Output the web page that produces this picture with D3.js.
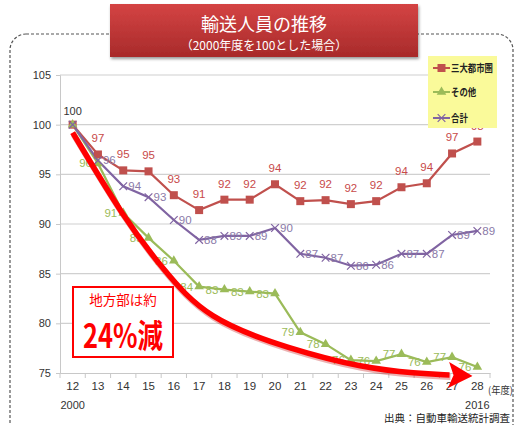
<!DOCTYPE html>
<html><head><meta charset="utf-8">
<script src="https://cdn.jsdelivr.net/npm/d3@7"></script>
<style>body{margin:0;background:#fff}svg{display:block}</style>
</head><body>
<svg id="c" width="515" height="425"></svg>
<script>
const categories = ["12","13","14","15","16","17","18","19","20","21","22","23","24","25","26","27","28"];
const metro = [100,97.0,95.4,95.3,92.9,91.4,92.45,92.45,94.0,92.3,92.4,92.0,92.3,93.7,94.1,97.1,98.3];
const rural = [100,96.1,91.1,88.6,86.3,83.7,83.4,83.2,83.0,79.1,77.9,76.3,76.2,76.9,76.1,76.6,75.6];
const total = [100,96.4,93.8,92.7,90.4,88.4,88.8,88.8,89.6,87.0,86.6,85.8,85.9,87.0,87.0,88.9,89.3];
const yTicks = [75,80,85,90,95,100,105];
const seriesNames = ["三大都市圏","その他","合計"];
// annotation arrow path in data space (year index, value)
const arrowYears = [12, 14.05, 15.55, 17.3, 20.6, 23.5, 25.6, 26.9];
const arrowVals  = [99.2, 90.5, 85.5, 80.4, 77.4, 75.5, 74.95, 74.8];

const svg = d3.select("#c");
const CJK = "'Noto Sans CJK JP','Noto Sans',sans-serif";
const NUM = "'Liberation Sans Narrow','Liberation Sans',Arial,sans-serif";

const x = d3.scaleBand().domain(categories).range([60,490]);
const xc = c => x(c) + x.bandwidth()/2;
const xn = d3.scaleLinear().domain([12,28]).range([xc("12"), xc("28")]);
const y = d3.scaleLinear().domain([75,105]).range([373,75]);

// dashed frame
svg.append("rect").attr("x",10).attr("y",34).attr("width",503).attr("height",430).attr("rx",16)
  .attr("fill","none").attr("stroke","#555").attr("stroke-width",1.2).attr("stroke-dasharray","3,2");

// gridlines
svg.append("g").selectAll("line").data(yTicks.filter(t=>t>75)).join("line")
  .attr("x1",60).attr("x2",490).attr("y1",d=>y(d)).attr("y2",d=>y(d))
  .attr("stroke","#d0d0d0").attr("stroke-width",1.2);

// y axis
const ya = svg.append("g").attr("transform","translate(60,0)")
  .call(d3.axisLeft(y).tickValues(yTicks).tickSize(4).tickPadding(5));
ya.select(".domain").attr("stroke","#c8c8c8");
ya.selectAll(".tick line").attr("stroke","#c8c8c8");
ya.selectAll("text").attr("font-family",NUM).attr("font-size",11).attr("fill","#333");

// x axis
const xa = svg.append("g").attr("transform",`translate(0,${y(75)})`)
  .call(d3.axisBottom(x).tickSize(0).tickPadding(9));
xa.select(".domain").attr("stroke","#c8c8c8");
xa.selectAll("text").attr("font-family",NUM).attr("font-size",11.5).attr("fill","#333");
svg.append("g").selectAll("line").data(categories.concat(["end"])).join("line")
  .attr("x1",(d,i)=> i<categories.length ? x(d) : 490).attr("x2",(d,i)=> i<categories.length ? x(d) : 490)
  .attr("y1",y(75)).attr("y2",y(75)+5).attr("stroke","#c8c8c8");

svg.append("text").attr("x",xc("12")).attr("y",409).attr("text-anchor","middle")
  .attr("font-family",NUM).attr("font-size",11).attr("fill","#333").text("2000");
svg.append("text").attr("x",xc("28")).attr("y",409).attr("text-anchor","middle")
  .attr("font-family",NUM).attr("font-size",11).attr("fill","#333").text("2016");
svg.append("text").attr("x",488).attr("y",394)
  .attr("font-family",CJK).attr("font-size",10).attr("fill","#333")
  .attr("textLength",25).attr("lengthAdjust","spacingAndGlyphs").text("(年度)");
svg.append("text").attr("x",384).attr("y",422)
  .attr("font-family",CJK).attr("font-size",10.5).attr("fill","#222").text("出典：自動車輸送統計調査");

const colors = ["#c0504d","#9bbb59","#8064a2"];
const datas = [metro, rural, total];
const line = d3.line().x((d,i)=>xc(categories[i])).y(d=>y(d));

// series lines
datas.forEach((arr,k)=>{
  svg.append("path").datum(arr).attr("d",line).attr("fill","none")
    .attr("stroke",colors[k]).attr("stroke-width",2.2);
});

// markers
svg.append("g").selectAll("rect").data(metro).join("rect")
  .attr("x",(d,i)=>xc(categories[i])-4).attr("y",d=>y(d)-4).attr("width",8).attr("height",8)
  .attr("fill",colors[0]);
const tri = d3.symbol().type(d3.symbolTriangle).size(40);
svg.append("g").selectAll("path").data(rural).join("path")
  .attr("d",tri).attr("transform",(d,i)=>`translate(${xc(categories[i])},${y(d)})`)
  .attr("fill",colors[1]);
svg.append("g").selectAll("path").data(total).join("path")
  .attr("d",d3.symbol().type(d3.symbolX).size(40)).attr("transform",(d,i)=>`translate(${xc(categories[i])},${y(d)})`)
  .attr("fill","none").attr("stroke",colors[2]).attr("stroke-width",1.2);

// first point label
svg.append("text").attr("x",xc("12")).attr("y",y(100)-10).attr("text-anchor","middle")
  .attr("font-family",NUM).attr("font-size",11).attr("fill","#333").text("100");

// data labels
svg.append("g").selectAll("text").data(metro.slice(1)).join("text")
  .attr("x",(d,i)=>xc(categories[i+1])).attr("y",d=>y(d)-12).attr("text-anchor","middle")
  .attr("font-family",NUM).attr("font-size",11.5).attr("fill","#c84a4a").text(d=>Math.round(d));
svg.append("g").selectAll("text").data(rural.slice(1)).join("text")
  .attr("x",(d,i)=>xc(categories[i+1])-6).attr("y",d=>y(d)+4).attr("text-anchor","end")
  .attr("font-family",NUM).attr("font-size",11.5).attr("fill","#9bbb59").text(d=>Math.round(d));
svg.append("g").selectAll("text").data(total.slice(1)).join("text")
  .attr("x",(d,i)=>xc(categories[i+1])+5).attr("y",d=>y(d)+4).attr("text-anchor","start")
  .attr("font-family",NUM).attr("font-size",11.5).attr("fill","#8a7aa8").text(d=>Math.round(d));

// arrow
const defs = svg.append("defs");
defs.append("marker").attr("id","ah").attr("markerUnits","userSpaceOnUse")
  .attr("viewBox","0 0 24 26").attr("refX",1).attr("refY",13)
  .attr("markerWidth",24).attr("markerHeight",26).attr("orient","auto")
  .append("path").attr("d","M0,0 L24,13 L0,26 L5,13 Z").attr("fill","#ff0000");
const aline = d3.line().curve(d3.curveBasis).x((d,i)=>xn(arrowYears[i])).y(d=>y(d));
svg.append("path").datum(arrowVals).attr("d",aline).attr("fill","none")
  .attr("stroke","#c00000").attr("stroke-width",6).attr("opacity",0.3).attr("transform","translate(1,2)");
svg.append("path").datum(arrowVals).attr("d",aline).attr("fill","none")
  .attr("stroke","#ff0000").attr("stroke-width",5.5).attr("marker-end","url(#ah)");

// callout
svg.append("rect").attr("x",73).attr("y",287).attr("width",100).attr("height",70)
  .attr("fill","#fff").attr("stroke","#ff0000").attr("stroke-width",2);
svg.append("text").attr("x",123).attr("y",305).attr("text-anchor","middle")
  .attr("font-family",CJK).attr("font-size",13.5).attr("fill","#ff0000").text("地方部は約");
svg.append("text").attr("x",83).attr("y",348)
  .attr("font-family",CJK).attr("font-size",33).attr("font-weight","bold").attr("fill","#ff0000")
  .attr("textLength",80).attr("lengthAdjust","spacingAndGlyphs").text("24%減");

// legend
const lg = svg.append("g");
lg.append("rect").attr("x",428).attr("y",56).attr("width",69).attr("height",72).attr("fill","#fafa9a");
seriesNames.forEach((n,k)=>{
  const ly = [68,92,118][k];
  lg.append("line").attr("x1",433).attr("x2",450).attr("y1",ly).attr("y2",ly).attr("stroke",colors[k]).attr("stroke-width",2);
  if(k===0) lg.append("rect").attr("x",437.5).attr("y",ly-4).attr("width",8).attr("height",8).attr("fill",colors[0]);
  if(k===1) lg.append("path").attr("d",tri).attr("transform",`translate(441.5,${ly})`).attr("fill",colors[1]);
  if(k===2) lg.append("path").attr("d",d3.symbol().type(d3.symbolX).size(40)).attr("transform",`translate(441.5,${ly})`).attr("stroke",colors[2]).attr("stroke-width",1.2);
  lg.append("text").attr("x",451).attr("y",ly+4).attr("font-family",CJK).attr("font-size",10.5)
    .attr("font-weight","bold").attr("fill","#222")
    .attr("textLength",n.length*8.4).attr("lengthAdjust","spacingAndGlyphs").text(n);
});

// title box
const g = defs.append("linearGradient").attr("id","tg").attr("x1",0).attr("y1",0).attr("x2",0).attr("y2",1);
g.append("stop").attr("offset","0%").attr("stop-color","#d44444");
g.append("stop").attr("offset","100%").attr("stop-color","#a82a2a");
const f = defs.append("filter").attr("id","sh").attr("x","-10%").attr("y","-10%").attr("width","130%").attr("height","150%");
f.append("feDropShadow").attr("dx",1).attr("dy",2).attr("stdDeviation",1.5).attr("flood-color","#000").attr("flood-opacity",0.4);
svg.append("rect").attr("x",110).attr("y",4).attr("width",308).attr("height",53)
  .attr("fill","url(#tg)").attr("filter","url(#sh)");
svg.append("text").attr("x",264).attr("y",31).attr("text-anchor","middle")
  .attr("font-family",CJK).attr("font-size",18).attr("fill","#fff").text("輸送人員の推移");
svg.append("text").attr("x",264).attr("y",50).attr("text-anchor","middle")
  .attr("font-family",CJK).attr("font-size",12).attr("fill","#fff").text("（2000年度を100とした場合）");
</script>
</body></html>
